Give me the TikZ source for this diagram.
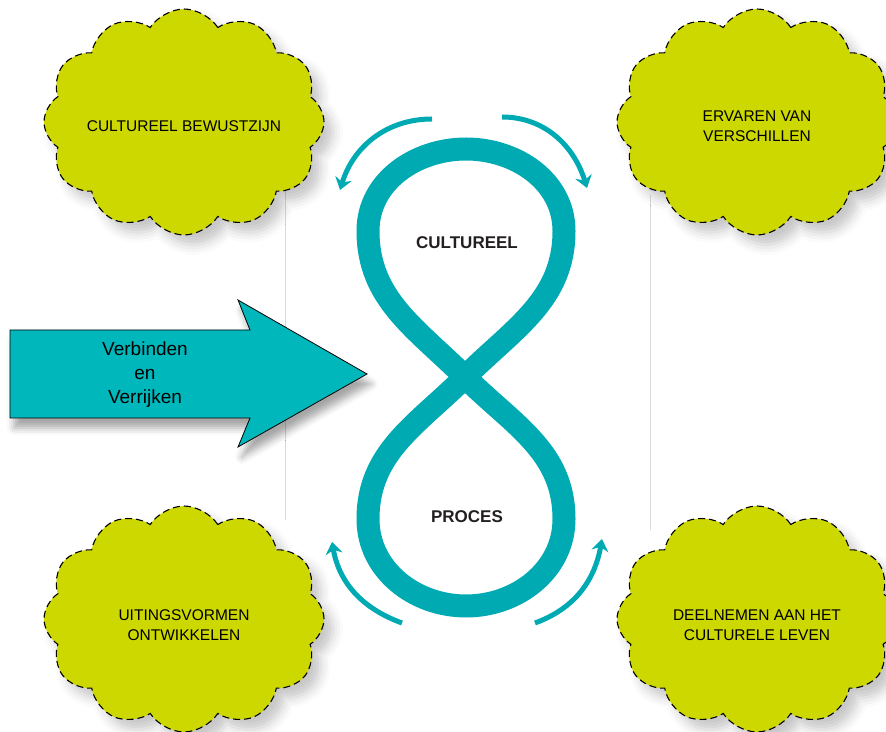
\documentclass[tikz,border=0pt]{standalone}
\usepackage{fontspec}
\setmainfont{Liberation Sans}
\usetikzlibrary{shapes.symbols,arrows.meta,shadows.blur}
\definecolor{cloudgreen}{RGB}{205,216,0}
\definecolor{arrowteal}{RGB}{0,184,188}
\definecolor{eightteal}{RGB}{0,170,178}
\definecolor{labelgray}{RGB}{35,31,32}
\begin{document}
\begin{tikzpicture}[
            x=1pt, y=1pt,
            cloudbox/.style = {shape=cloud, cloud puffs=12, cloud puff arc=115, aspect=1.25, minimum width=280pt, minimum height=226pt, inner sep=0pt, draw=black, line width=1.1pt, dash pattern=on 7pt off 4pt, fill=cloudgreen, blur shadow={shadow xshift=9pt, shadow yshift=-10pt, shadow blur radius=10pt, shadow opacity=22}},
            cloudtext/.style = {align=center, font=\fontsize{15.5}{20}\selectfont},
            bigarrow/.style = {draw=black, line width=0.8pt, fill=arrowteal, blur shadow={shadow xshift=4pt, shadow yshift=-10pt, shadow blur radius=7pt, shadow opacity=35}},
            cyclearrow/.style = {draw=eightteal, line width=5pt, -{Stealth[length=12pt, width=17pt, inset=4pt]}},
            grayline/.style = {draw=black!15, line width=0.8pt},
            eightlabel/.style = {text=labelgray, font=\bfseries\fontsize{17}{20}\selectfont}
          ]
          \useasboundingbox (0,0) rectangle (886,731);
          \coordinate (lineAtop) at (285,561);
          \coordinate (lineAbot) at (285,211);
          \coordinate (lineBtop) at (650,536);
          \coordinate (lineBbot) at (650,201);
          \draw[grayline] (lineAtop) -- (lineAbot);
          \draw[grayline] (lineBtop) -- (lineBbot);

          \node[cloudbox] (bewust) at (184,609) {};
          \node[cloudbox] (ervaren) at (757,609) {};
          \node[cloudbox] (uiting) at (184,112) {};
          \node[cloudbox] (deelnemen) at (757,112) {};
          \node[cloudtext] (bewusttxt) at ([yshift=-4pt]bewust.center) {CULTUREEL BEWUSTZIJN};
          \node[cloudtext] (ervarentxt) at ([yshift=-4pt]ervaren.center) {ERVAREN VAN\\VERSCHILLEN};
          \node[cloudtext] (uitingtxt) at ([yshift=-6pt]uiting.center) {UITINGSVORMEN\\ONTWIKKELEN};
          \node[cloudtext] (deelnementxt) at ([yshift=-6pt]deelnemen.center) {DEELNEMEN AAN HET\\CULTURELE LEVEN};

          \draw[bigarrow] (10,401) -- (250,401) -- (238,431) -- (367,357) -- (238,284) -- (250,313) -- (10,313) -- cycle;
          \node[align=center, font=\fontsize{19}{24}\selectfont] (verbind) at (145,356) {Verbinden\\en\\Verrijken};

          \coordinate (kruis) at (465,354);
          \coordinate (bovenR) at (564,500);
          \coordinate (boven) at (466,582);
          \coordinate (bovenL) at (368,500);
          \coordinate (onderR) at (564,212);
          \coordinate (onder) at (466,125);
          \coordinate (onderL) at (368,212);
          \draw[eightteal, line width=23pt]
            (kruis) to[out=45,in=-90] (bovenR) to[out=90,in=0] (boven)
            to[out=180,in=90] (bovenL) to[out=-90,in=135] (kruis)
            to[out=-45,in=90] (onderR) to[out=-90,in=0] (onder)
            to[out=180,in=-90] (onderL) to[out=90,in=-135] (kruis) -- cycle;
          \node[eightlabel] (cultureel) at (467,488) {CULTUREEL};
          \node[eightlabel] (proces) at (467,214) {PROCES};

          \coordinate (tlstart) at (432,612);
          \coordinate (tlend) at (340,541);
          \coordinate (trstart) at (502,614);
          \coordinate (trend) at (587,543);
          \coordinate (blstart) at (402,108);
          \coordinate (blend) at (332,189);
          \coordinate (brstart) at (535,108);
          \coordinate (brend) at (602,192);
          \draw[cyclearrow] (tlstart) to[out=180,in=73] (tlend);
          \draw[cyclearrow] (trstart) to[out=0,in=107] (trend);
          \draw[cyclearrow] (blstart) to[out=160,in=-80] (blend);
          \draw[cyclearrow] (brstart) to[out=20,in=-100] (brend);
        \end{tikzpicture}
\end{document}
